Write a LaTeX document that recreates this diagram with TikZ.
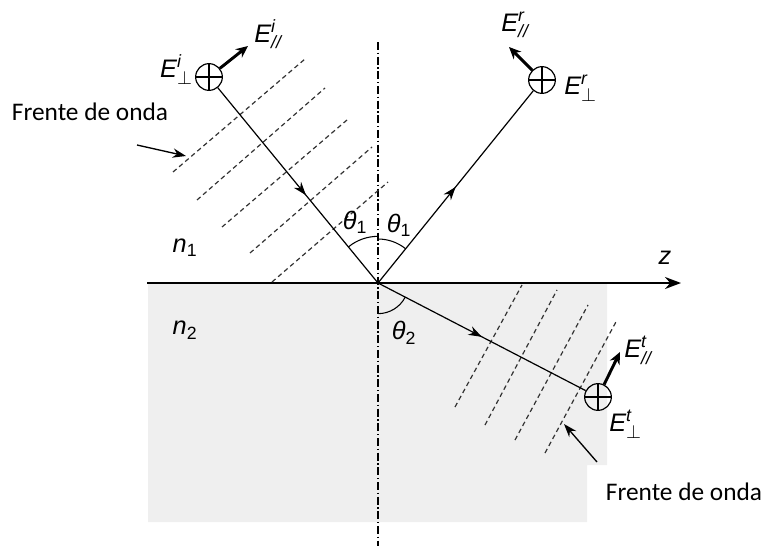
\documentclass[tikz,border=0pt]{standalone}
\usepackage{fontspec}
\setmainfont{Carlito}
\newfontfamily\arialfont{Liberation Sans}
\usepackage{amsmath}
\usetikzlibrary{arrows.meta,decorations.markings,angles}

\definecolor{medium}{RGB}{239,239,239}

\tikzset{
  field/.style={draw, circle, minimum size=20pt, inner sep=0pt, line width=0.9pt,
    path picture={\draw[line width=0.9pt] (path picture bounding box.north) -- (path picture bounding box.south)
      (path picture bounding box.west) -- (path picture bounding box.east);}},
  ray/.style={line width=0.9pt, postaction={decorate},
    decoration={markings, mark=at position #1 with {\arrow{Stealth[length=10pt,width=7pt]}}}},
  fvec/.style={line width=2.2pt, -{Stealth[length=9pt,width=8pt]}},
  pointer/.style={line width=1pt, -{Stealth[length=10pt,width=7pt]}},
  front/.style={line width=0.9pt, black!80, dash pattern=on 3.5pt off 2.5pt},
  lbl/.style={font=\arialfont\fontsize{19}{22}\selectfont, inner sep=0pt},
  glbl/.style={font=\arialfont\fontsize{19}{22}\selectfont, inner sep=0pt},
  txt/.style={font=\fontsize{19}{23}\selectfont, inner sep=0pt}
}

\begin{document}
\begin{tikzpicture}[x=0.75pt,y=-0.75pt,>=stealth]
\useasboundingbox (0,0) rectangle (764,546);

% Medium 2
\fill[medium] (148,283) -- (607,283) -- (607,465) -- (587,465) -- (587,522) -- (148,522) -- cycle;

% Normal and interface
\coordinate (O) at (378,283);
\coordinate (U) at (378,200);
\coordinate (D) at (378,360);
\draw[line width=0.9pt, dash pattern=on 6pt off 2pt on 1pt off 2pt] (378,42) -- (378,546);
\draw[line width=1.5pt, -{Stealth[length=12pt,width=9pt]}] (147,283) -- (681,283) coordinate (zEnd);
\node[glbl] (zLbl) at (665,258) {$\textit{z}$};

% Wave fronts
\foreach \xa/\ya/\xb/\yb in {173/172/305/59, 197/200/325/88, 222/227/347/120, 250/253/372/147, 272/282/388/182}
  \draw[front] (\xa,\ya) -- (\xb,\yb);
\foreach \xa/\ya/\xb/\yb in {455/407/522/285, 485/425/557/290, 515/440/588/305, 545/453/617/320}
  \draw[front] (\xa,\ya) -- (\xb,\yb);

% Fields
\node[field] (Ei) at (209,77) {};
\node[field] (Er) at (542,80) {};
\node[field] (Et) at (598,397) {};

% Rays
\draw[ray=0.55] (Ei) -- (O);
\draw[ray=0.5] (O) -- (Er);
\draw[ray=0.5] (O) -- (Et);

% Parallel components
\coordinate (EiTip) at (248,46);
\coordinate (ErTip) at (509,47);
\coordinate (EtTip) at (620,352);
\draw[fvec] (Ei) -- (EiTip);
\draw[fvec] (Er) -- (ErTip);
\draw[fvec] (Et) -- (EtTip);

\node[lbl, anchor=east] (EiPerp) at (193,70) {$\textit{E}^{\textit{i}}_{\perp}$};
\node[lbl] (EiPar) at (268,34) {$\textit{E}^{\textit{i}}_{\textit{//}}$};
\node[lbl] (ErPar) at (515,25) {$\textit{E}^{\textit{r}}_{\textit{//}}$};
\node[lbl, anchor=west] (ErPerp) at (564,88) {$\textit{E}^{\textit{r}}_{\perp}$};
\node[lbl] (EtPar) at (638,350) {$\textit{E}^{\textit{t}}_{\textit{//}}$};
\node[lbl, anchor=west] (EtPerp) at (609,424) {$\textit{E}^{\textit{t}}_{\perp}$};

% Angles
\pic[draw, line width=0.8pt, angle radius=35pt] {angle = U--O--Ei};
\pic[draw, line width=0.8pt, angle radius=33pt] {angle = Er--O--U};
\pic[draw, line width=0.8pt, angle radius=23pt] {angle = D--O--Et};
\node[glbl] (th1L) at (355,222) {$\textit{θ}_{\text{1}}$};
\node[glbl] (th1R) at (399,225) {$\textit{θ}_{\text{1}}$};
\node[glbl] (th2) at (404,333) {$\textit{θ}_{\text{2}}$};

% Media
\node[glbl] (n1) at (185,248) {$\textit{n}_{\text{1}}$};
\node[glbl] (n2) at (185,330) {$\textit{n}_{\text{2}}$};

% Wave front labels
\node[txt] (frontL) at (90,112) {Frente de onda};
\node[txt] (frontR) at (684,492) {Frente de onda};
\coordinate (fLa) at (137,145);
\coordinate (fLb) at (186,156);
\coordinate (fRa) at (597,462);
\coordinate (fRb) at (564,424);
\draw[pointer] (fLa) -- (fLb);
\draw[pointer] (fRa) -- (fRb);

\end{tikzpicture}
\end{document}
